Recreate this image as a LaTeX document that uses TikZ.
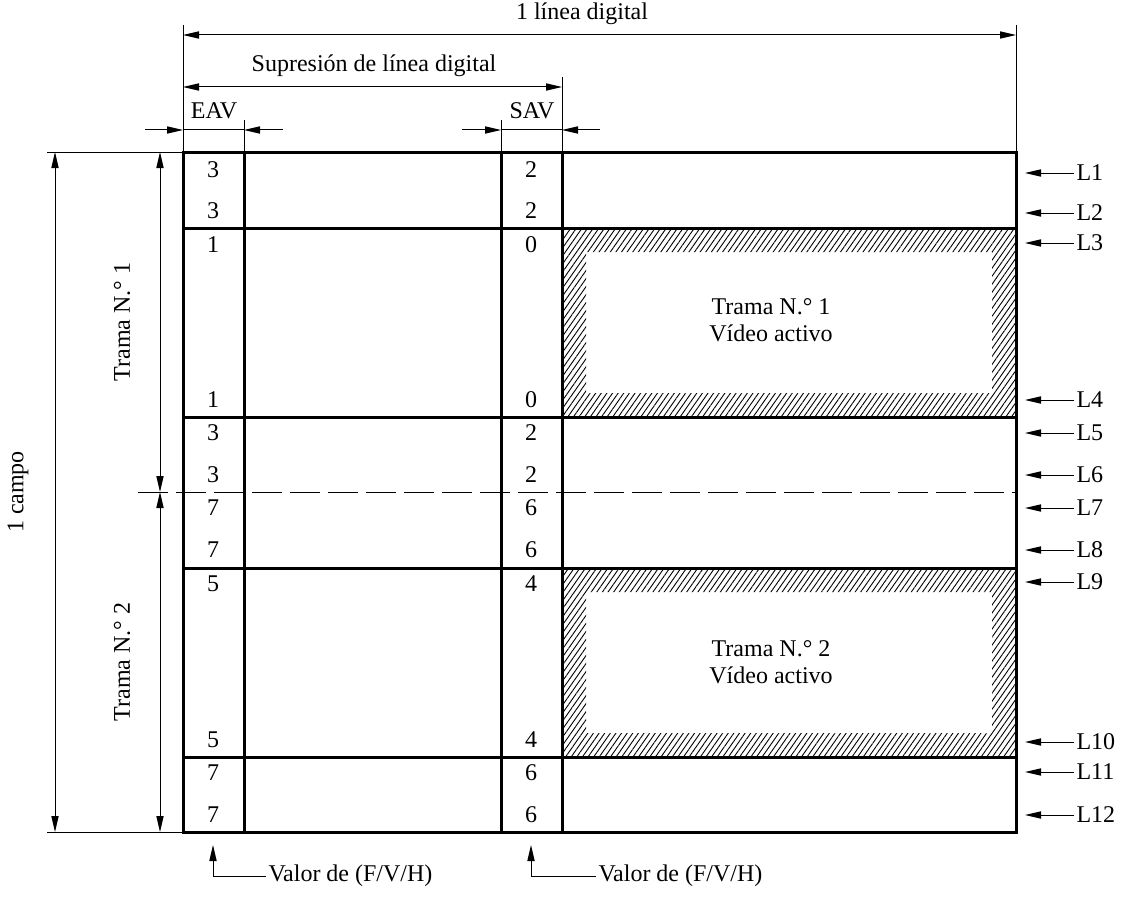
\documentclass[tikz,border=0pt]{standalone}
\usepackage{fontspec}
\setmainfont{Liberation Serif}
\usetikzlibrary{arrows.meta, positioning, patterns.meta}
\tikzset{
  every picture/.style={font=\fontsize{12}{13.5}\selectfont, line width=0.5pt},
  frame/.style={line width=1.5pt},
  dim/.style={{Triangle[length=8pt,width=3.6pt]}-{Triangle[length=8pt,width=3.6pt]}},
  tip/.style={-{Triangle[length=8pt,width=3.6pt]}},
  hatch/.style={pattern={Lines[angle=55,distance=2.3pt,line width=0.45pt]}},
  lineno/.style={anchor=west, inner sep=1pt},
  valor/.style={anchor=west, inner sep=1pt},
}

\begin{document}
\begin{tikzpicture}[x=0.5pt, y=-0.5pt]
  \useasboundingbox (0,0) rectangle (1124,899);
  % hatched active video areas
  \fill[hatch, even odd rule] (562,228) rectangle (1016,417) (586,252) rectangle (992,393);
  \fill[hatch, even odd rule] (562,568) rectangle (1016,757) (586,592) rectangle (992,733);
  \node[align=center] (act1) at (771,320) {Trama N.° 1\\Vídeo activo};
  \node[align=center] (act2) at (771,662) {Trama N.° 2\\Vídeo activo};
  % frame of the field
  \draw[frame] (183,152) rectangle (1016,832);
  \foreach \x in {244,501,562}
    \draw[frame] (\x,152) -- (\x,832);
  \foreach \y in {228,417,568,757}
    \draw[frame] (183,\y) -- (1016,\y);
  \draw[dash pattern=on 15pt off 4pt] (138,492) -- (1016,492);
  % EAV / SAV values
  \foreach \y/\a/\b [count=\i] in {170/3/2, 211/3/2, 245/1/0, 400/1/0, 433/3/2, 475/3/2,
      508/7/6, 550/7/6, 584/5/4, 740/5/4, 773/7/6, 815/7/6} {
    \node (eav\i) at (213,\y) {\a};
    \node (sav\i) at (531,\y) {\b};
  }
  % line numbers
  \foreach \y [count=\i] in {173,213,243,400,433,475,508,550,582,742,772,815} {
    \node[lineno] (L\i) at (1074,\y) {L\i};
    \coordinate (p\i) at (1025,\y);
    \draw[tip] (L\i.west) -- (p\i);
  }
  % top dimensions
  \draw (183,25) -- (183,152);
  \draw (1016,25) -- (1016,152);
  \draw (562,77) -- (562,152);
  \draw (244,120) -- (244,152);
  \draw (501,120) -- (501,152);
  \coordinate (lin0) at (183,35);
  \coordinate (lin1) at (1016,35);
  \draw[dim] (lin0) -- (lin1);
  \node (linea) at (582,14) {1 línea digital};
  \coordinate (sup0) at (183,87);
  \coordinate (sup1) at (562,87);
  \draw[dim] (sup0) -- (sup1);
  \node (supr) at (374,66) {Supresión de línea digital};
  \node (eav) at (214,111) {EAV};
  \node (sav) at (532,111) {SAV};
  \draw (183,130) -- (244,130) (501,130) -- (562,130);
  \draw[tip] (145,130) -- (183,130);
  \draw[tip] (283,130) -- (244,130);
  \draw[tip] (462,130) -- (501,130);
  \draw[tip] (600,130) -- (562,130);
  % left dimensions
  \draw (47,152) -- (183,152);
  \draw (47,832) -- (183,832);
  \coordinate (cam0) at (55,152);
  \coordinate (cam1) at (55,832);
  \draw[dim] (cam0) -- (cam1);
  \node[rotate=90] (campo) at (18,492) {1 campo};
  \coordinate (tr0) at (160,152);
  \coordinate (tr1) at (160,492);
  \coordinate (tr2) at (160,832);
  \draw[dim] (tr0) -- (tr1);
  \draw[dim] (tr1) -- (tr2);
  \node[rotate=90] (trama1) at (122,322) {Trama N.° 1};
  \node[rotate=90] (trama2) at (122,662) {Trama N.° 2};
  % F/V/H values
  \node[valor] (val1) at (266,876) {Valor de (F/V/H)};
  \node[valor] (val2) at (596,876) {Valor de (F/V/H)};
  \coordinate (v1) at (213,845);
  \coordinate (v2) at (531,845);
  \draw[tip] (val1.west) -| (v1);
  \draw[tip] (val2.west) -| (v2);
\end{tikzpicture}
\end{document}
